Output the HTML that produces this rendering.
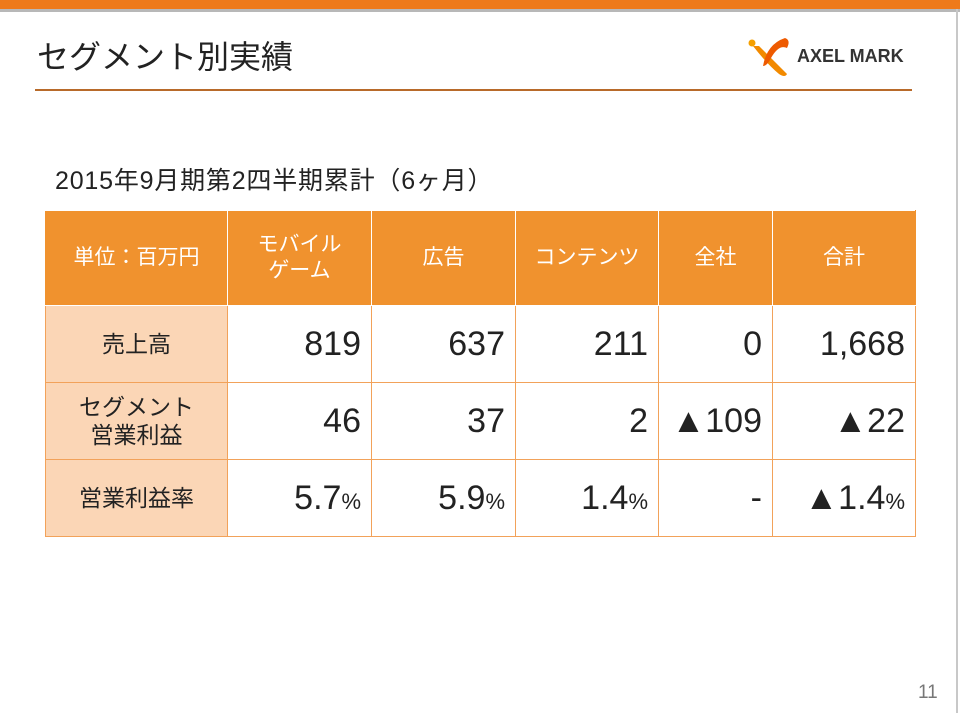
<!DOCTYPE html>
<html><head><meta charset="utf-8"><style>
body{margin:0;width:960px;height:713px;background:#fff;position:relative;overflow:hidden;font-family:"Liberation Sans","Noto Sans CJK JP",sans-serif;color:#222}
.abs{position:absolute;white-space:nowrap}
table{position:absolute;left:45px;top:210px;border-collapse:collapse;table-layout:fixed}
td{border:1.5px solid #F2A25A;padding:0;height:76px}
tr.h td{background:#F0922E;color:#fff;font-size:21px;text-align:center;border-color:#fff;height:94px;line-height:26px}
tr.h td:first-child{border-left-color:#F0922E}
tr.h td:last-child{border-right-color:#F0922E}
tr.h{border-top:1.5px solid #F0922E}
td.lab{background:#FBD6B6;text-align:center;font-size:23px;line-height:28px}
td.v{text-align:right;padding-right:10px;font-size:34px}
td.v small{font-size:22px}
</style></head><body>
<div class="abs" style="left:0;top:0;width:960px;height:9px;background:#EE7A1A"></div>
<div class="abs" style="left:0;top:9px;width:960px;height:3px;background:#B8B8B8"></div>
<div class="abs" style="left:956px;top:9px;width:2px;height:704px;background:#C8C8C8"></div>
<div class="abs" style="left:37px;top:32px;font-size:32px;color:#222">セグメント別実績</div>
<div class="abs" style="left:35px;top:89px;width:877px;height:2px;background:#B86A2A"></div>
<div class="abs" style="left:745px;top:34px;width:170px;height:45px">
<svg width="50" height="45" viewBox="0 0 50 45"><circle cx="7" cy="9" r="3.5" fill="#F5A000"/><path d="M8 12 Q22 30 34 40 Q40 44 42 40 Q30 28 14 12Z" fill="#F28A00"/><path d="M18 32 Q22 10 40 4 Q46 6 42 14 Q34 10 26 24 Q22 32 18 32Z" fill="#EE5A00"/></svg>
<span class="abs" style="left:52px;top:12px;font-size:18px;font-weight:bold;color:#333;letter-spacing:0px">AXEL MARK</span></div>
<div class="abs" style="left:55px;top:161px;font-size:25px;letter-spacing:0.8px;color:#222">2015年9月期第2四半期累計（6ヶ月）</div>
<table>
<colgroup><col style="width:182px"><col style="width:144px"><col style="width:144px"><col style="width:143px"><col style="width:114px"><col style="width:143px"></colgroup>
<tr class="h"><td>単位：百万円</td><td>モバイル<br>ゲーム</td><td>広告</td><td>コンテンツ</td><td>全社</td><td>合計</td></tr>
<tr><td class="lab">売上高</td><td class="v">819</td><td class="v">637</td><td class="v">211</td><td class="v">0</td><td class="v">1,668</td></tr>
<tr><td class="lab">セグメント<br>営業利益</td><td class="v">46</td><td class="v">37</td><td class="v">2</td><td class="v">▲109</td><td class="v">▲22</td></tr>
<tr><td class="lab">営業利益率</td><td class="v">5.7<small>%</small></td><td class="v">5.9<small>%</small></td><td class="v">1.4<small>%</small></td><td class="v">-</td><td class="v">▲1.4<small>%</small></td></tr>
</table>
<div class="abs" style="left:918px;top:682px;font-size:19px;color:#777">11</div>
</body></html>
